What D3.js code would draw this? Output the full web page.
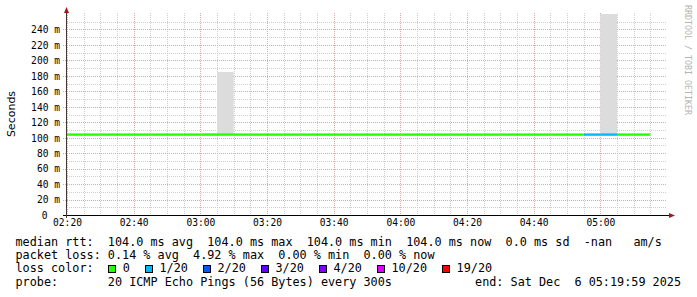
<!DOCTYPE html>
<html>
<head>
<meta charset="utf-8">
<script src="https://cdn.jsdelivr.net/npm/d3@7"></script>
<style>
  html, body { margin: 0; padding: 0; background: #fff; }
  svg { display: block; }
  text { white-space: pre; }
  .mono { font-family: "DejaVu Sans Mono", monospace; }
</style>
</head>
<body>
<svg id="chart" width="697" height="297"></svg>
<script>
// 5 minute bins, 02:20 .. 05:15
const binStart = new Date(2025, 11, 6, 2, 20);
const medianRtt = [
  104, 104, 104, 104, 104, 104, 104, 104, 104, 104,
  104, 104, 104, 104, 104, 104, 104, 104, 104, 104,
  104, 104, 104, 104, 104, 104, 104, 104, 104, 104,
  104, 104, 104, 104, 104
];
const smokeMax = [
  104, 104, 104, 104, 104, 104, 104, 104, 106, 185,
  104, 104, 104, 104, 104, 104, 104, 104, 104, 104,
  104, 104, 104, 104, 104, 104, 104, 104, 104, 104,
  104, 104, 300, 104, 104
];
// lost pings out of 20 per bin
const lostPings = [
  0, 0, 0, 0, 0, 0, 0, 0, 0, 0,
  0, 0, 0, 0, 0, 0, 0, 0, 0, 0,
  0, 0, 0, 0, 0, 0, 0, 0, 0, 0,
  0, 1, 1, 0, 0
];

const lossLevels = ["0", "1/20", "2/20", "3/20", "4/20", "10/20", "19/20"];
const lossSteps = [0, 1, 2, 3, 4, 10, 19];
const lossColors = ["#26ff00", "#00b8ff", "#0059ff", "#5e00ff", "#7e00ff", "#dd00ff", "#ff0000"];

const rttStats = ["104.0 ms avg", "104.0 ms max", "104.0 ms min", "104.0 ms now", "0.0 ms sd", "-nan   am/s"];
const lossStats = ["0.14 % avg", "4.92 % max", "0.00 % min", "0.00 % now"];
const probeText = "20 ICMP Echo Pings (56 Bytes) every 300s";
const endText = "end: Sat Dec  6 05:19:59 2025";

const svg = d3.select("#chart");
svg.append("rect").attr("width", 697).attr("height", 297).attr("fill", "#fff");

const t0 = new Date(2025, 11, 6, 2, 20);
const t1 = new Date(2025, 11, 6, 5, 20);
const x = d3.scaleTime().domain([t0, t1]).range([67, 667]);
const y = d3.scaleLinear().domain([0, 260]).range([215, 14]);

const bins = medianRtt.map((v, i) => ({
  t: d3.timeMinute.offset(binStart, i * 5),
  t2: d3.timeMinute.offset(binStart, i * 5 + 5),
  median: v,
  max: smokeMax[i],
  lost: lostPings[i]
}));

function lossColor(n) {
  let c = lossColors[0];
  lossSteps.forEach((s, i) => { if (n >= s) c = lossColors[i]; });
  return c;
}

// grid
const grid = svg.append("g").attr("stroke-dasharray", "1,1").attr("stroke-width", 1);
const minorX = d3.timeMinute.every(5).range(t0, t1).filter(d => d.getMinutes() % 20 !== 0);
const majorX = d3.timeMinute.every(20).range(t0, t1);
grid.selectAll(".vminor").data(minorX).join("line")
  .attr("x1", d => Math.round(x(d)) + 0.5).attr("x2", d => Math.round(x(d)) + 0.5)
  .attr("y1", 13).attr("y2", 215).attr("stroke", "#cfcfcf");
grid.selectAll(".vmajor").data(majorX).join("line")
  .attr("x1", d => Math.round(x(d)) + 0.5).attr("x2", d => Math.round(x(d)) + 0.5)
  .attr("y1", 13).attr("y2", 215).attr("stroke", "#dea8a8");

const minorY = d3.range(10, 260, 20);
const majorY = d3.range(20, 260, 20);
grid.selectAll(".hminor").data(minorY).join("line")
  .attr("x1", 67).attr("x2", 667)
  .attr("y1", d => Math.round(y(d)) + 0.5).attr("y2", d => Math.round(y(d)) + 0.5)
  .attr("stroke", "#cfcfcf");
grid.selectAll(".hmajor").data(majorY).join("line")
  .attr("x1", 63).attr("x2", 667)
  .attr("y1", d => Math.round(y(d)) + 0.5).attr("y2", d => Math.round(y(d)) + 0.5)
  .attr("stroke", "#dea8a8");

// smoke
svg.append("clipPath").attr("id", "plot").append("rect")
  .attr("x", 67).attr("y", 14).attr("width", 600).attr("height", 201);
svg.append("g").attr("clip-path", "url(#plot)")
  .selectAll("rect").data(bins.filter(d => d.max > d.median)).join("rect")
  .attr("x", d => x(d.t)).attr("width", d => x(d.t2) - x(d.t))
  .attr("y", d => y(d.max)).attr("height", d => y(d.median) - y(d.max))
  .attr("fill", d => d.max - d.median < 5 ? "#ececec" : "#dcdcdc");

// median line coloured by loss
svg.append("g").selectAll("line").data(bins).join("line")
  .attr("x1", d => x(d.t)).attr("x2", d => x(d.t2))
  .attr("y1", d => y(d.median)).attr("y2", d => y(d.median))
  .attr("stroke", d => lossColor(d.lost)).attr("stroke-width", 2.4);

// axes
svg.append("line").attr("x1", 63).attr("x2", 671).attr("y1", 215.5).attr("y2", 215.5)
  .attr("stroke", "#000");
svg.append("line").attr("x1", 66.5).attr("x2", 66.5).attr("y1", 12).attr("y2", 218)
  .attr("stroke", "#4a3434");
svg.append("path").attr("d", "M669,213 L675,215.5 L669,218 Z").attr("fill", "#a01818");
svg.append("path").attr("d", "M64,13 L66.5,7 L69,13 Z").attr("fill", "#a01818");

const xAxis = svg.append("g").attr("transform", "translate(0,215)")
  .call(d3.axisBottom(x).tickValues(majorX).tickSize(0).tickPadding(0)
    .tickFormat(d3.timeFormat("%H:%M")));
xAxis.select(".domain").remove();
xAxis.selectAll("text").attr("class", "mono").attr("dy", null).attr("y", 10.5)
  .attr("font-size", "9.6px").attr("fill", "#000");

const yAxis = svg.append("g").attr("transform", "translate(60,0)")
  .call(d3.axisLeft(y).tickValues(d3.range(0, 260, 20)).tickSize(0).tickPadding(0)
    .tickFormat(d => d === 0 ? "0" : `${d} m`));
yAxis.select(".domain").remove();
yAxis.selectAll("text").attr("class", "mono").attr("dy", null).attr("y", 3.3)
  .attr("x", d => d === 0 ? -12.5 : 0)
  .attr("font-size", "9.6px").attr("fill", "#000");

svg.append("text").attr("transform", "translate(15,114) rotate(-90)")
  .attr("text-anchor", "middle").attr("font-family", "DejaVu Sans").attr("font-size", "11px")
  .text("Seconds");

svg.append("text").attr("class", "mono").attr("transform", "translate(685,5) rotate(90)")
  .attr("font-size", "8.3px").attr("fill", "#b4b4b4").text("RRDTOOL / TOBI OETIKER");

// legend
const lx = 15.5, cw = 7.1, fs = "11.8px";
const legend = svg.append("g").attr("class", "mono").attr("font-size", fs).attr("fill", "#000");
legend.append("text").attr("x", lx).attr("y", 245.5)
  .text("median rtt:  " + rttStats.join("  "));
legend.append("text").attr("x", lx).attr("y", 258.9)
  .text("packet loss: " + lossStats.join("  "));
legend.append("text").attr("x", lx).attr("y", 272.3).text("loss color:");
legend.append("text").attr("x", lx).attr("y", 285.7).text("probe:       " + probeText);
legend.append("text").attr("x", 681).attr("y", 285.7).attr("text-anchor", "end").text(endText);

let bx = lx + 13 * cw;
lossLevels.forEach((lab, i) => {
  legend.append("rect").attr("x", Math.round(bx) + 0.5).attr("y", 265.5)
    .attr("width", 7).attr("height", 7)
    .attr("fill", lossColors[i]).attr("stroke", "#000").attr("stroke-width", 1);
  legend.append("text").attr("x", bx + 15).attr("y", 272.3).text(lab);
  bx = bx + 15 + lab.length * cw + 14.6;
});
</script>
</body>
</html>
